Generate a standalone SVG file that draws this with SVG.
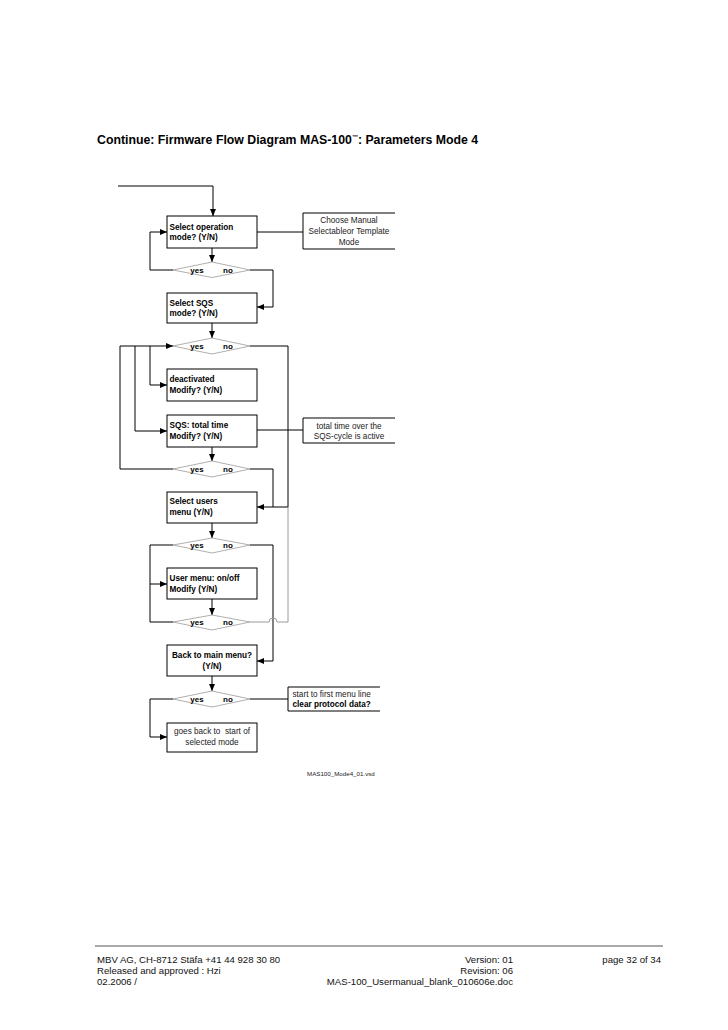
<svg xmlns="http://www.w3.org/2000/svg" width="728" height="1030" viewBox="0 0 728 1030">
<style>
.box{fill:#fff;stroke:#000;stroke-width:1}
.dia{fill:#fff;stroke:#9a9a9a;stroke-width:0.8}
.note{fill:none;stroke:#000;stroke-width:1}
.c{fill:none;stroke:#000;stroke-width:1}
.g{fill:none;stroke:#9a9a9a;stroke-width:1}
.b{font-family:"Liberation Sans",Arial,sans-serif;font-size:8.2px;font-weight:bold;fill:#000}
.n{font-family:"Liberation Sans",Arial,sans-serif;font-size:8.2px;fill:#222}
.d{font-family:"Liberation Sans",Arial,sans-serif;font-size:8px;font-weight:bold;fill:#000;text-anchor:middle}
.f{font-family:"Liberation Sans",Arial,sans-serif;font-size:9.6px;fill:#111}
.m{text-anchor:middle}
</style>
<defs>
<marker id="ar" markerUnits="userSpaceOnUse" markerWidth="7" markerHeight="6" refX="7" refY="3" orient="auto">
<path d="M0,0 L7,3 L0,6 z" fill="#000"/>
</marker>
</defs>
<rect width="728" height="1030" fill="#fff"/>
<text x="97" y="144" font-family="Liberation Sans,Arial,sans-serif" font-size="12.3" font-weight="bold">Continue: Firmware Flow Diagram MAS-100<tspan font-size="6" dy="-5">™</tspan><tspan dy="5">: Parameters Mode 4</tspan></text>

<g id="connectors">
<path class="c" d="M118,186 H213 V216" marker-end="url(#ar)"/>
<path class="c" d="M212,248 V262" marker-end="url(#ar)"/>
<path class="c" d="M173,270 H150 V232 H167" marker-end="url(#ar)"/>
<path class="c" d="M250,270 H273 V307 H257" marker-end="url(#ar)"/>
<path class="c" d="M257,232 H303"/>
<path class="c" d="M212,323 V338" marker-end="url(#ar)"/>
<path class="c" d="M173,469 H120 V346 H173" marker-end="url(#ar)"/>
<path class="c" d="M150,346 V385 H167" marker-end="url(#ar)"/>
<path class="c" d="M135,346 V431 H167" marker-end="url(#ar)"/>
<path class="c" d="M250,346 H288 V507 H257" marker-end="url(#ar)"/>
<path class="c" d="M212,447 V461" marker-end="url(#ar)"/>
<path class="c" d="M257,430 H303"/>
<path class="c" d="M250,469 H273 V507"/>
<path class="c" d="M212,523 V538" marker-end="url(#ar)"/>
<path class="c" d="M173,545 H150 V584 H167" marker-end="url(#ar)"/>
<path class="c" d="M250,545 H273 V661 H257" marker-end="url(#ar)"/>
<path class="c" d="M212,599 V615" marker-end="url(#ar)"/>
<path class="c" d="M173,622 H150 V584"/>
<path class="g" d="M250,622 H269 A4,4 0 0 1 277,622 H288 V507"/>
<path class="c" d="M212,676 V691" marker-end="url(#ar)"/>
<path class="c" d="M173,699 H150 V737 H167" marker-end="url(#ar)"/>
<path class="c" d="M250,699 H288"/>
</g>

<g id="n_select_op">
<rect class="box" x="167" y="216" width="90" height="32"/>
<text class="b" x="169.5" y="229.5">Select operation</text>
<text class="b" x="169.5" y="240">mode? (Y/N)</text>
</g>
<g id="note_choose">
<path class="note" d="M395,213 H303 V249 H395"/>
<text class="n m" x="349" y="223">Choose Manual</text>
<text class="n m" x="349" y="234">Selectableor Template</text>
<text class="n m" x="349" y="244.5">Mode</text>
</g>
<g id="d1">
<polygon class="dia" points="173,270 212,262 250,270 212,277.5"/>
<text class="d" x="197" y="273">yes</text>
<text class="d" x="228" y="273">no</text>
</g>
<g id="n_select_sqs">
<rect class="box" x="167" y="293" width="90" height="30"/>
<text class="b" x="169.5" y="305.5">Select SQS</text>
<text class="b" x="169.5" y="316">mode? (Y/N)</text>
</g>
<g id="d2">
<polygon class="dia" points="173,346 212,338 250,346 212,354"/>
<text class="d" x="197" y="349">yes</text>
<text class="d" x="228" y="349">no</text>
</g>
<g id="n_deactivated">
<rect class="box" x="167" y="369" width="90" height="32"/>
<text class="b" x="169.5" y="382">deactivated</text>
<text class="b" x="169.5" y="393">Modify? (Y/N)</text>
</g>
<g id="n_sqs_total">
<rect class="box" x="167" y="415" width="90" height="32"/>
<text class="b" x="169.5" y="428">SQS: total time</text>
<text class="b" x="169.5" y="439">Modify? (Y/N)</text>
</g>
<g id="note_total">
<path class="note" d="M395,418 H303 V443 H395"/>
<text class="n m" x="349" y="428.5">total time over the</text>
<text class="n m" x="349" y="439">SQS-cycle is active</text>
</g>
<g id="d3">
<polygon class="dia" points="173,469 212,461 250,469 212,477"/>
<text class="d" x="197" y="472">yes</text>
<text class="d" x="228" y="472">no</text>
</g>
<g id="n_select_users">
<rect class="box" x="167" y="492" width="90" height="31"/>
<text class="b" x="169.5" y="504">Select users</text>
<text class="b" x="169.5" y="515">menu (Y/N)</text>
</g>
<g id="d4">
<polygon class="dia" points="173,545 212,538 250,545 212,553"/>
<text class="d" x="197" y="548">yes</text>
<text class="d" x="228" y="548">no</text>
</g>
<g id="n_user_menu">
<rect class="box" x="167" y="568" width="90" height="31"/>
<text class="b" x="169.5" y="581">User menu: on/off</text>
<text class="b" x="169.5" y="591.5">Modify (Y/N)</text>
</g>
<g id="d5">
<polygon class="dia" points="173,622 212,615 250,622 212,630"/>
<text class="d" x="197" y="625">yes</text>
<text class="d" x="228" y="625">no</text>
</g>
<g id="n_back_main">
<rect class="box" x="167" y="645" width="90" height="31"/>
<text class="b m" x="212" y="658">Back to main menu?</text>
<text class="b m" x="212" y="668.5">(Y/N)</text>
</g>
<g id="d6">
<polygon class="dia" points="173,699 212,691 250,699 212,707"/>
<text class="d" x="197" y="702">yes</text>
<text class="d" x="228" y="702">no</text>
</g>
<g id="note_start">
<path class="note" d="M380,687 H288 V711 H380"/>
<text class="n" x="292.5" y="696.5">start to first menu line</text>
<text class="b" x="292.5" y="707" font-size="8.6">clear protocol data?</text>
</g>
<g id="n_goes_back">
<rect class="box" x="167" y="723" width="90" height="29"/>
<text class="n m" x="212" y="734" xml:space="preserve">goes back to  start of</text>
<text class="n m" x="212" y="744.5">selected mode</text>
</g>
<text x="307" y="776" font-family="Liberation Sans,Arial,sans-serif" font-size="6.2" fill="#222">MAS100_Mode4_01.vsd</text>

<g id="footer">
<line x1="95" y1="946" x2="663" y2="946" stroke="#555" stroke-width="1"/>
<text class="f" x="97" y="962.5">MBV AG, CH-8712 Stäfa +41 44 928 30 80</text>
<text class="f" x="97" y="973.5">Released and approved : Hzi</text>
<text class="f" x="97" y="984.5">02.2006 /</text>
<text class="f" x="513" y="962.5" text-anchor="end">Version: 01</text>
<text class="f" x="513" y="973.5" text-anchor="end">Revision: 06</text>
<text class="f" x="513" y="984.5" text-anchor="end">MAS-100_Usermanual_blank_010606e.doc</text>
<text class="f" x="661" y="962.5" text-anchor="end">page 32 of 34</text>
</g>
</svg>
